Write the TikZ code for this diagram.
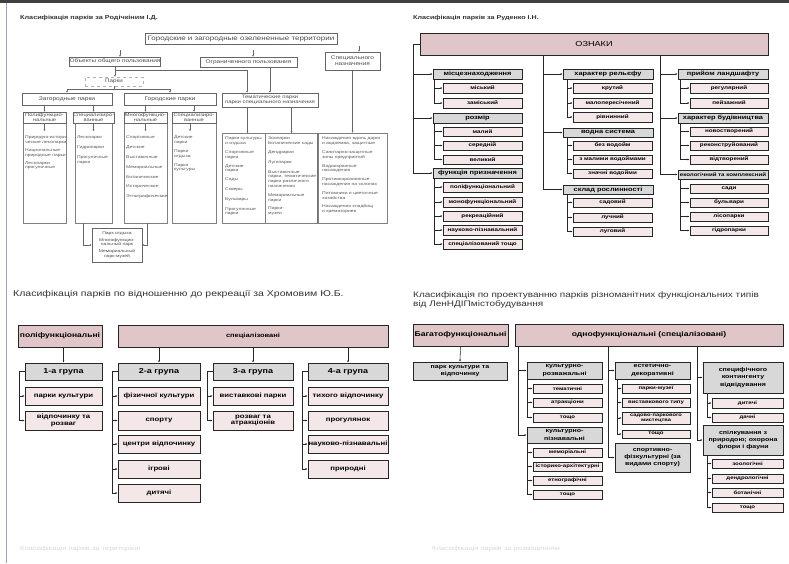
\documentclass[tikz,border=0pt]{standalone}
\usepackage{fontspec}
\setmainfont{Liberation Sans}[FakeStretch=1.25]
\usetikzlibrary{arrows.meta,shadows}
\definecolor{hdrpink}{HTML}{E0C6C8}
\definecolor{catgray}{HTML}{D8D8D8}
\definecolor{itmpink}{HTML}{F3E7E8}
\definecolor{edgeblue}{HTML}{9AA3B8}
\newcommand{\Bx}[7]{\node[#1, anchor=center, minimum width={(#5-#3)*1pt}, minimum height={(#6-#4)*1pt}] (#2) at ({(#3+#5)/2},{(#4+#6)/2}) {#7};}
\newcommand{\fz}[2]{\fontsize{#1}{#2}\selectfont}
\begin{document}
\begin{tikzpicture}[x=1pt,y=-1pt,
 arr/.style={-{Latex[length=2.2pt,width=2pt]}, line width=0.55pt, draw=black!85},
 parr/.style={-{Latex[length=1.8pt,width=1.8pt]}, line width=0.4pt, draw=black!60},
 ln/.style={line width=0.55pt, draw=black!85},
 pln/.style={line width=0.4pt, draw=black!60},
 shd/.style={general shadow={fill=black!65, shadow xshift=0.9pt, shadow yshift=-0.9pt}},
 hdr/.style={draw=black!85, line width=0.6pt, fill=hdrpink, inner sep=0pt, align=center, shd},
 cat/.style={draw=black!85, line width=0.55pt, fill=catgray, inner sep=0pt, align=center, shd},
 itm/.style={draw=black!85, line width=0.55pt, fill=itmpink, inner sep=0pt, align=center, shd},
 c2/.style={cat, font=\bfseries\fz{5.9}{6.5}},
 i2/.style={itm, font=\bfseries\fz{5}{5.5}},
 g3/.style={cat, font=\bfseries\fz{7.2}{8}},
 i3/.style={itm, font=\bfseries\fz{6.2}{6.8}},
 c4/.style={cat, font=\bfseries\fz{5.6}{7.2}},
 i4/.style={itm, font=\bfseries\fz{4.8}{5.2}},
 pbox/.style={draw=black!60, line width=0.4pt, inner sep=0pt, align=center, text=black!70},
 pcol/.style={draw=black!50, line width=0.5pt, inner sep=0pt},
 ptxt/.style={inner sep=0pt, align=left, anchor=north west, text=black!65, font=\fz{4}{4.8}},
 ttl/.style={anchor=west, inner sep=0pt, text=black!80},
]
\useasboundingbox[fill=white] (0,0) rectangle (789,563);
\fill[black!75] (0,0) rectangle (789,2.5);
\draw[edgeblue, line width=1.2pt] (6.5,2.5) -- (6.5,563);

% ================= Panel 1 =================
\node[ttl, font=\bfseries\fz{5.8}{6.5}] (t1) at (20,18) {Класифікація парків за Родічкіним І.Д.};
\Bx{pbox, general shadow={fill=black!40, shadow xshift=1pt, shadow yshift=-1pt}, fill=white, font=\fz{6.4}{7}}{T}{145}{33}{337}{44}{Городские и загородные озелененные территории}
\Bx{pbox, font=\fz{5.2}{6}}{L1}{70}{57}{160}{66}{Объекты общего пользования}
\Bx{pbox, font=\fz{5.2}{6}}{L2}{200}{57}{297}{67}{Ограниченного пользования}
\Bx{pbox, font=\fz{5.2}{6}}{L3}{325}{52}{380}{70}{Специального\\назначения}
\Bx{pbox, dashed, draw=black!30, font=\fz{5}{6}}{P}{85}{77}{143}{86}{Парки}
\Bx{pbox, font=\fz{5.3}{6}}{A}{22}{93}{112}{105}{Загородные парки}
\Bx{pbox, font=\fz{5.3}{6}}{B}{124}{93}{216}{105}{Городские парки}
\Bx{pbox, font=\fz{4.8}{5.4}}{C}{222}{93}{318}{107}{Тематические парки\\парки специального назначения}
\Bx{pcol}{A1c}{23}{123}{66}{223}{}
\Bx{pcol}{A2c}{75}{123}{112}{223}{}
\Bx{pcol}{B1c}{124}{123}{167}{223}{}
\Bx{pcol}{B2c}{172}{123}{216}{223}{}
\Bx{pcol}{C1c}{222}{133}{265}{223}{}
\Bx{pcol}{C2c}{265}{133}{318}{223}{}
\Bx{pcol}{Dc}{318}{133}{387}{223}{}
\draw[line width=1.3pt, black!55] (Dc.north west) -- (Dc.south west);
\Bx{pbox, font=\fz{4.6}{5}}{A1}{23}{112}{66}{123}{Полифункцио-\\нальные}
\Bx{pbox, font=\fz{4.6}{5}}{A2}{75}{112}{112}{123}{Специализиро-\\ванные}
\Bx{pbox, font=\fz{4.6}{5}}{B1}{124}{112}{167}{123}{Многофункцио-\\нальные}
\Bx{pbox, font=\fz{4.6}{5}}{B2}{172}{112}{216}{123}{Специализиро-\\ванные}
\Bx{pbox, font=\fz{4}{4.8}}{E}{92}{228}{142}{262}{Парк отдыха\\[2pt]Многофункцио-\\нальный парк\\[2pt]Мемориальный\\парк-музей}

\node[ptxt] (tA1) at (25,136) {Природно-истори-\\ческие лесопарки\\[3pt]Национальные\\природные парки\\[3pt]Лесопарки\\прогулочные};
\node[ptxt] (tA2) at (77,136) {Лесопарки\\[5pt]Гидропарки\\[5pt]Прогулочные\\парки};
\node[ptxt] (tB1) at (126,136) {Спортивные\\[5pt]Детские\\[5pt]Выставочные\\[5pt]Мемориальные\\[5pt]Ботанические\\[5pt]Исторические\\[5pt]Этнографические};
\node[ptxt] (tB2) at (174,136) {Детские\\парки\\[4pt]Парки\\отдыха\\[4pt]Парки\\культуры};
\node[ptxt] (tC1) at (225,137) {Парки культуры\\и отдыха\\[4pt]Спортивные\\парки\\[4pt]Детские\\парки\\[4pt]Сады\\[5pt]Скверы\\[5pt]Бульвары\\[5pt]Прогулочные\\парки};
\node[ptxt] (tC2) at (268,137) {Зоопарки\\Ботанические сады\\[4pt]Дендрарии\\[5pt]Лугопарки\\[5pt]Выставочные\\парки, тематические\\парки различного\\назначения\\[4pt]Мемориальные\\парки\\[4pt]Парки-\\музеи};
\node[ptxt] (tD) at (322,137) {Насаждения вдоль дорог\\и водоемов, защитные\\[4pt]Санитарно-защитные\\зоны предприятий\\[4pt]Водоохранные\\насаждения\\[4pt]Противоэрозионные\\насаждения на склонах\\[4pt]Питомники и цветочные\\хозяйства\\[4pt]Насаждения кладбищ\\и крематориев};

\coordinate (a1) at (120,50);
\coordinate (a2) at (253,50);
\coordinate (a3) at (359,46);
\draw[parr] (a1) -- (a1 |- L1.north);
\draw[parr] (a2) -- (a2 |- L2.north);
\draw[parr] (a3) -- (a3 |- L3.north);
\coordinate (j1) at (115,70);
\coordinate (j2) at (247,70);
\draw[pln] (L1.south) -- (j1) -- (j2);
\draw[parr] (j1) -- (j1 |- P.north);
\draw[parr] (j2) -- (j2 |- C.north);
\draw[parr] (L2.south -| C.north) -- (C.north);
\draw[parr] (L3.south) -- (L3.south |- Dc.north);
\coordinate (j3) at (114,89);
\draw[pln] (P.south) -- (j3);
\draw[pln] (j3 -| A.north) -- (j3 -| B.north);
\draw[parr] (j3 -| A.north) -- (A.north);
\draw[parr] (j3 -| B.north) -- (B.north);
\draw[parr] (A.south -| A1.north) -- (A1.north);
\draw[parr] (A.south -| A2.north) -- (A2.north);
\draw[parr] (B.south -| B1.north) -- (B1.north);
\draw[parr] (B.south -| B2.north) -- (B2.north);
\draw[parr] (A1.south) -- ++(0,8);
\draw[parr] (A2.south) -- ++(0,8);
\draw[parr] (B1.south) -- ++(0,8);
\draw[parr] ([xshift=-4pt]B2.south) -- ++(0,8);
\draw[parr] ([xshift=4pt]C.south -| C1c.north) -- ++(0,26);
\draw[parr] (C.south -| C2c.north) -- ++(0,26);
\draw[parr] ([xshift=8pt]A2c.south west) |- (E.west);
\draw[parr] ([xshift=-20pt]B1c.south east) |- (E.east);

% ================= Panel 2 =================
\node[ttl, font=\bfseries\fz{5.7}{6.5}] (t2) at (413,18) {Класифікація парків за Руденко І.Н.};
\Bx{hdr, font=\fz{7.3}{8}}{oz}{420}{33}{768}{55}{ОЗНАКИ}
\Bx{c2}{c11}{433}{69}{522}{79}{місцезнаходження}
\Bx{i2}{i111}{443}{83}{522}{93}{міський}
\Bx{i2}{i112}{443}{98}{522}{108}{заміський}
\Bx{c2}{c12}{433}{113}{522}{123}{розмір}
\Bx{i2}{i121}{443}{127}{522}{136}{малий}
\Bx{i2}{i122}{443}{141}{522}{150}{середній}
\Bx{i2}{i123}{443}{155}{522}{164}{великий}
\Bx{c2}{c13}{433}{168}{522}{178}{функція призначення}
\Bx{i2}{i131}{443}{182}{522}{192}{поліфункціональний}
\Bx{i2}{i132}{443}{197}{522}{207}{монофункціональний}
\Bx{i2}{i133}{443}{211}{522}{221}{рекреаційний}
\Bx{i2}{i134}{443}{225}{522}{235}{науково-пізнавальний}
\Bx{i2}{i135}{443}{239}{522}{249}{спеціалізований тощо}

\Bx{c2}{c21}{563}{69}{653}{79}{характер рельєфу}
\Bx{i2}{i211}{573}{83}{652}{93}{крутий}
\Bx{i2}{i212}{573}{98}{652}{108}{малопересічений}
\Bx{i2}{i213}{573}{112}{652}{122}{рівнинний}
\Bx{c2}{c22}{563}{128}{653}{137}{водна система}
\Bx{i2}{i221}{573}{141}{652}{150}{без водойм}
\Bx{i2}{i222}{573}{155}{652}{164}{з малими водоймами}
\Bx{i2}{i223}{573}{169}{652}{178}{значні водойми}
\Bx{c2}{c23}{563}{185}{653}{194}{склад рослинності}
\Bx{i2}{i231}{573}{198}{652}{207}{садовий}
\Bx{i2}{i232}{573}{213}{652}{222}{лучний}
\Bx{i2}{i233}{573}{227}{652}{236}{луговий}

\Bx{c2}{c31}{678}{69}{768}{79}{прийом ландшафту}
\Bx{i2}{i311}{690}{83}{768}{93}{регулярний}
\Bx{i2}{i312}{690}{98}{768}{108}{пейзажний}
\Bx{c2}{c32}{678}{113}{768}{123}{характер будівництва}
\Bx{i2}{i321}{690}{127}{768}{136}{новостворений}
\Bx{i2}{i322}{690}{141}{768}{150}{реконструйований}
\Bx{i2}{i323}{690}{155}{768}{164}{відтворений}
\Bx{c2, font=\bfseries\fz{4.9}{5.5}}{c33}{678}{170}{768}{179}{екологічний та комплексний}
\Bx{i2}{i331}{690}{184}{768}{193}{сади}
\Bx{i2}{i332}{690}{198}{768}{207}{бульвари}
\Bx{i2}{i333}{690}{212}{768}{221}{лісопарки}
\Bx{i2}{i334}{690}{226}{768}{235}{гідропарки}

\draw[ln] (oz.west) -- ++(-6,0) coordinate (r1);
\coordinate (r2) at (543,55);
\coordinate (r3) at (660,55);
\foreach \c in {c11,c12,c13} \draw[arr] (r1) |- (\c.west);
\foreach \c in {c21,c22,c23} \draw[arr] (r2) |- (\c.west);
\foreach \c in {c31,c32,c33} \draw[arr] (r3) |- (\c.west);
\foreach \c/\i in {c11/i111,c11/i112,c12/i121,c12/i122,c12/i123,c13/i131,c13/i132,c13/i133,c13/i134,c13/i135}
  \draw[arr] ([xshift=2pt]\c.south west) |- (\i.west);
\foreach \c/\i in {c21/i211,c21/i212,c21/i213,c22/i221,c22/i222,c22/i223,c23/i231,c23/i232,c23/i233}
  \draw[arr] ([xshift=5pt]\c.south west) |- (\i.west);
\foreach \c/\i in {c31/i311,c31/i312,c32/i321,c32/i322,c32/i323,c33/i331,c33/i332,c33/i333,c33/i334}
  \draw[arr] ([xshift=3pt]\c.south west) |- (\i.west);

% ================= Panel 3 =================
\node[ttl, font=\fz{8.4}{9}] (t3) at (13,294) {Класифікація парків по відношенню до рекреації за Хромовим Ю.Б.};
\Bx{hdr, font=\bfseries\fz{6.8}{7.5}}{poly}{18}{325}{102}{347}{поліфункціональні}
\Bx{hdr, font=\bfseries\fz{6}{7}}{spec}{118}{325}{388}{347}{спеціалізовані}
\Bx{g3}{g1}{25}{363}{102}{380}{1-а група}
\Bx{g3}{g2}{118}{363}{200}{380}{2-а група}
\Bx{g3}{g3b}{213}{363}{293}{380}{3-а група}
\Bx{g3}{g4}{308}{363}{388}{380}{4-а група}
\Bx{i3}{k11}{25}{387}{102}{405}{парки культури}
\Bx{i3}{k12}{25}{411}{102}{430}{відпочинку та\\розваг}
\Bx{i3}{k21}{118}{387}{200}{405}{фізичної культури}
\Bx{i3}{k22}{118}{411}{200}{430}{спорту}
\Bx{i3}{k23}{118}{435}{200}{453}{центри відпочинку}
\Bx{i3}{k24}{118}{460}{200}{478}{ігрові}
\Bx{i3}{k25}{118}{484}{200}{502}{дитячі}
\Bx{i3}{k31}{213}{387}{293}{405}{виставкові парки}
\Bx{i3}{k32}{213}{411}{293}{430}{розваг та\\атракціонів}
\Bx{i3}{k41}{308}{387}{388}{405}{тихого відпочинку}
\Bx{i3}{k42}{308}{411}{388}{430}{прогулянок}
\Bx{i3}{k43}{308}{435}{388}{453}{науково-пізнавальні}
\Bx{i3}{k44}{308}{460}{388}{478}{природні}
\draw[arr] (poly.south -| g1.north) -- (g1.north);
\draw[arr] (spec.south -| g2.north) -- (g2.north);
\draw[arr] (spec.south -| g3b.north) -- (g3b.north);
\draw[arr] (spec.south -| g4.north) -- (g4.north);
\foreach \g/\i in {g1/k11,g1/k12,g2/k21,g2/k22,g2/k23,g2/k24,g2/k25,g3b/k31,g3b/k32,g4/k41,g4/k42,g4/k43,g4/k44}
  \draw[arr] (\g.west) -- ++(-5,0) |- (\i.west);

% ================= Panel 4 =================
\node[ttl, font=\fz{8}{9}, anchor=north west, align=left] (t4) at (413,291) {Класифікація по проектуванню парків різноманітних функціональних типів\\від ЛенНДІПмістобудування};
\Bx{hdr, font=\bfseries\fz{6.9}{7.5}}{bf}{413}{324}{508}{346}{Багатофункціональні}
\Bx{hdr, font=\bfseries\fz{6.9}{7.5}}{od}{515}{324}{783}{346}{однофункціональні (спеціалізовані)}
\Bx{c4}{pk}{413}{362}{507}{380}{парк культури та\\відпочинку}
\Bx{c4}{ka}{527}{362}{602}{379}{культурно-\\розважальні}
\Bx{i4}{ka1}{533}{384}{602}{393}{тематичні}
\Bx{i4}{ka2}{533}{398}{602}{407}{атракціони}
\Bx{i4}{ka3}{533}{413}{602}{422}{тощо}
\Bx{c4}{kp}{527}{427}{602}{443}{культурно-\\пізнавальні}
\Bx{i4}{kp1}{533}{448}{602}{457}{меморіальні}
\Bx{i4}{kp2}{533}{462}{602}{471}{історико-архітектурні}
\Bx{i4}{kp3}{533}{476}{602}{485}{етнографічні}
\Bx{i4}{kp4}{533}{490}{602}{499}{тощо}
\Bx{c4}{ed}{615}{362}{690}{379}{естетично-\\декоративні}
\Bx{i4}{ed1}{622}{384}{690}{393}{парки-музеї}
\Bx{i4}{ed2}{622}{398}{690}{407}{виставкового типу}
\Bx{i4, font=\bfseries\fz{4.6}{5}}{ed3}{622}{412}{690}{424}{садово-паркового\\мистецтва}
\Bx{i4}{ed4}{622}{430}{690}{438}{тощо}
\Bx{c4}{sf}{615}{443}{690}{472}{спортивно-\\фізкультурні (за\\видами спорту)}
\Bx{c4}{sk}{703}{362}{783}{393}{специфічного\\контингенту\\відвідування}
\Bx{i4}{sk1}{712}{398}{783}{408}{дитячі}
\Bx{i4}{sk2}{712}{413}{783}{422}{дачні}
\Bx{c4}{sp}{703}{425}{783}{455}{спілкування з\\природою; охорона\\флори і фауни}
\Bx{i4}{sp1}{712}{459}{783}{468}{зоологічні}
\Bx{i4}{sp2}{712}{474}{783}{483}{дендрологічні}
\Bx{i4}{sp3}{712}{488}{783}{497}{ботанічні}
\Bx{i4}{sp4}{712}{503}{783}{512}{тощо}
\draw[arr] (bf.south) -- (pk.north);
\coordinate (ta) at (518,346);
\coordinate (tb) at (608,346);
\coordinate (tc) at (697,346);
\foreach \c in {ka,kp} \draw[arr] (ta) |- (\c.west);
\foreach \c in {ed,sf} \draw[arr] (tb) |- (\c.west);
\foreach \c in {sk,sp} \draw[arr] (tc) |- (\c.west);
\foreach \c/\i in {ka/ka1,ka/ka2,ka/ka3,kp/kp1,kp/kp2,kp/kp3,kp/kp4}
  \draw[arr] ([xshift=1pt]\c.south west) |- (\i.west);
\foreach \c/\i in {ed/ed1,ed/ed2,ed/ed3,ed/ed4}
  \draw[arr] ([xshift=3pt]\c.south west) |- (\i.west);
\foreach \c/\i in {sk/sk1,sk/sk2,sp/sp1,sp/sp2,sp/sp3,sp/sp4}
  \draw[arr] ([xshift=5pt]\c.south west) |- (\i.west);

% ================= faint footer =================
\node[ttl, text=black!15, font=\fz{6}{7}] (f1) at (20,549) {Класифікація парків за територією};
\node[ttl, text=black!15, font=\fz{6}{7}] (f2) at (432,549) {Класифікація парків за розміщенням};
\end{tikzpicture}
\end{document}
